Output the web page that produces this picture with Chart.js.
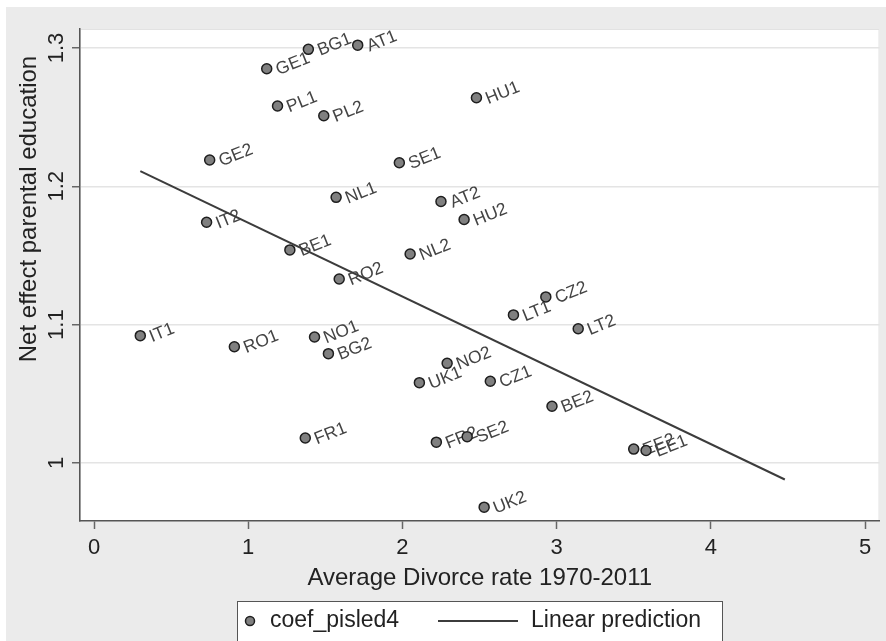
<!DOCTYPE html>
<html>
<head>
<meta charset="utf-8">
<script src="https://cdn.jsdelivr.net/npm/chart.js@4.4.1/dist/chart.umd.min.js"></script>
<style>
  html, body { margin: 0; padding: 0; background: #fff; }
</style>
</head>
<body>
<canvas id="chart" width="886" height="641"></canvas>
<script>
// country-period labels with divorce rate (x) and net effect (y)
const countries = ["GE1", "BG1", "AT1", "PL1", "PL2", "GE2", "SE1", "NL1", "AT2", "HU1", "HU2",
  "IT2", "BE1", "NL2", "RO2", "IT1", "RO1", "NO1", "BG2", "NO2", "UK1", "FR1", "FR2", "SE2",
  "LT1", "CZ2", "LT2", "CZ1", "BE2", "EE2", "EE1", "UK2"];
const divorceRate = [1.12, 1.39, 1.71, 1.19, 1.49, 0.75, 1.98, 1.57, 2.25, 2.48, 2.40,
  0.73, 1.27, 2.05, 1.59, 0.30, 0.91, 1.43, 1.52, 2.29, 2.11, 1.37, 2.22, 2.42,
  2.72, 2.93, 3.14, 2.57, 2.97, 3.50, 3.58, 2.53];
const netEffect = [1.285, 1.299, 1.302, 1.258, 1.251, 1.219, 1.217, 1.192, 1.189, 1.264, 1.176,
  1.174, 1.154, 1.151, 1.133, 1.092, 1.084, 1.091, 1.079, 1.072, 1.058, 1.018, 1.015, 1.019,
  1.107, 1.120, 1.097, 1.059, 1.041, 1.010, 1.009, 0.968];

// fitted line end points
const fitX = [0.30, 4.48];
const fitY = [1.211, 0.988];

const xTicks = [0, 1, 2, 3, 4, 5];
const yTicks = [1, 1.1, 1.2, 1.3];
const xTitle = "Average Divorce rate 1970-2011";
const yTitle = "Net effect parental education";
const seriesNames = ["coef_pisled4", "Linear prediction"];

const FONT = "'Liberation Sans', Arial, sans-serif";
const LABEL_ANGLE = 22 * Math.PI / 180;

const stataLook = {
  id: "stataLook",
  beforeDraw(chart) {
    const { ctx, chartArea: a } = chart;
    ctx.save();
    ctx.fillStyle = "#fff";
    ctx.fillRect(0, 0, chart.width, chart.height);
    ctx.fillStyle = "#ebebeb";
    ctx.fillRect(6, 7, chart.width - 6, chart.height - 7);
    ctx.fillStyle = "#fff";
    ctx.fillRect(a.left, a.top, a.right - a.left, a.bottom - a.top);
    ctx.strokeStyle = "#e2e2e2";
    ctx.lineWidth = 1;
    ctx.strokeRect(a.left + 0.5, a.top + 0.5, a.right - a.left - 1, a.bottom - a.top - 1);
    ctx.restore();
  },
  beforeDatasetDraw(chart, args) {
    if (args.index !== 0) return;
    const { ctx } = chart;
    const pts = chart.getDatasetMeta(0).data;
    ctx.save();
    ctx.font = "17.5px " + FONT;
    ctx.fillStyle = "#444";
    ctx.textAlign = "left";
    ctx.textBaseline = "middle";
    pts.forEach((p, i) => {
      ctx.save();
      ctx.translate(p.x + 10, p.y + 2);
      ctx.rotate(-LABEL_ANGLE);
      ctx.fillText(countries[i], 0, 0);
      ctx.restore();
    });
    ctx.restore();
  },
  afterDraw(chart) {
    const { ctx } = chart;
    ctx.save();
    // y axis title
    ctx.font = "24px " + FONT;
    ctx.fillStyle = "#222";
    ctx.textAlign = "center";
    ctx.textBaseline = "middle";
    ctx.translate(29, 209);
    ctx.rotate(-Math.PI / 2);
    ctx.fillText(yTitle, 0, 0);
    ctx.restore();

    // legend box
    const ds = chart.data.datasets;
    ctx.save();
    ctx.fillStyle = "#fff";
    ctx.fillRect(237, 601, 485, 40);
    ctx.strokeStyle = "#555";
    ctx.lineWidth = 1;
    ctx.strokeRect(237.5, 601.5, 485, 40);
    const cy = 621;
    ctx.beginPath();
    ctx.arc(250, cy, 4.5, 0, Math.PI * 2);
    ctx.fillStyle = ds[0].backgroundColor;
    ctx.fill();
    ctx.lineWidth = 1.5;
    ctx.strokeStyle = ds[0].borderColor;
    ctx.stroke();
    ctx.beginPath();
    ctx.moveTo(438, cy);
    ctx.lineTo(518, cy);
    ctx.lineWidth = 2;
    ctx.strokeStyle = ds[1].borderColor;
    ctx.stroke();
    ctx.font = "23px " + FONT;
    ctx.fillStyle = "#222";
    ctx.textAlign = "left";
    ctx.textBaseline = "middle";
    ctx.fillText(ds[0].label, 270, cy);
    ctx.fillText(ds[1].label, 531, cy);
    ctx.restore();
  }
};

new Chart(document.getElementById("chart"), {
  type: "scatter",
  data: {
    datasets: [
      {
        label: seriesNames[0],
        data: divorceRate.map((x, i) => ({ x: x, y: netEffect[i] })),
        backgroundColor: "#808080",
        borderColor: "#1e1e1e",
        borderWidth: 1.5,
        pointRadius: 5,
        order: 2
      },
      {
        label: seriesNames[1],
        type: "line",
        data: fitX.map((x, i) => ({ x: x, y: fitY[i] })),
        borderColor: "#3c3c3c",
        borderWidth: 2,
        pointRadius: 0,
        fill: false,
        order: 1
      }
    ]
  },
  options: {
    responsive: false,
    animation: false,
    devicePixelRatio: 1,
    layout: { padding: { left: 0, right: 6, top: 29, bottom: 50 } },
    plugins: {
      legend: { display: false },
      tooltip: { enabled: false }
    },
    scales: {
      x: {
        type: "linear",
        min: -0.091,
        max: 5.094,
        afterBuildTicks: (axis) => { axis.ticks = xTicks.map(v => ({ value: v })); },
        afterFit: (axis) => { axis.height = 70; },
        grid: { drawOnChartArea: false, drawTicks: true, tickLength: 8, tickColor: "#666", tickWidth: 1.5 },
        border: { display: true, color: "#555", width: 1.5 },
        ticks: { color: "#222", font: { family: FONT, size: 22 }, padding: 6, maxRotation: 0 },
        title: { display: true, text: xTitle, color: "#222", font: { family: FONT, size: 24 }, padding: { top: 0, bottom: -2 } }
      },
      y: {
        type: "linear",
        min: 0.958,
        max: 1.3137,
        afterBuildTicks: (axis) => { axis.ticks = yTicks.map(v => ({ value: v })); },
        afterFit: (axis) => { axis.width = 80; },
        grid: { color: "#e4e4e4", lineWidth: 1.5, drawTicks: true, tickLength: 8, tickColor: "#666", tickWidth: 1.5 },
        border: { display: true, color: "#555", width: 1.5 },
        ticks: {
          color: "#222",
          font: { family: FONT, size: 22 },
          padding: 0,
          minRotation: 90,
          maxRotation: 90,
          crossAlign: "center",
          callback: (v) => String(v)
        },
        title: { display: false }
      }
    }
  },
  plugins: [stataLook]
});
</script>
</body>
</html>
